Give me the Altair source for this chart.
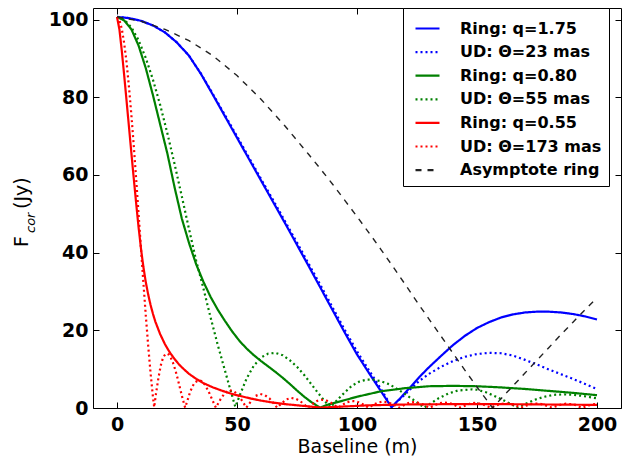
import altair as alt
import pandas as pd

# ---------------- data ----------------
series_names = ["Ring: q=1.75", "UD: \u0398=23 mas", "Ring: q=0.80", "UD: \u0398=55 mas",
                "Ring: q=0.55", "UD: \u0398=173 mas", "Asymptote ring"]

x_ticks = [0, 50, 100, 150, 200]
y_ticks = [0, 20, 40, 60, 80, 100]
y_title_parts = ["F", "cor", "(Jy)"]
x_title = "Baseline (m)"

# Ring q=1.75 (blue solid)
br_x = [0, 5, 10, 15, 20, 25, 30, 35, 40, 45, 50, 55, 60, 65, 70, 75, 80, 85, 90, 95, 100, 105, 110, 114.4,
        118, 122, 126, 130, 135, 140, 145, 150, 155, 160, 165, 170, 175, 180, 185, 190, 195, 200]
br_y = [100.7, 100.4, 99.7, 98.5, 96.7, 94.1, 90.7, 86.0, 80.6, 75.1, 69.6, 64.1, 58.6, 53.1, 47.6, 42.0,
        36.4, 30.7, 25.0, 19.3, 13.8, 9.0, 4.3, 0.2,
        2.5, 5.2, 8.0, 10.5, 13.4, 16.2, 18.6, 20.6, 22.1, 23.3, 24.1, 24.6, 24.8, 24.8, 24.6, 24.2, 23.6, 22.8]

# UD 23 mas (blue dotted)
bu_x = list(br_x)
bu_y = [100.7, 100.4, 99.7, 98.5, 96.7, 94.1, 90.7, 86.1, 80.8, 75.4, 70.0, 64.5, 59.0, 53.6, 48.1, 42.6,
        37.0, 31.4, 25.7, 20.0, 14.6, 9.7, 4.9, 0.3,
        2.3, 4.7, 7.0, 8.8, 10.6, 12.1, 13.2, 13.9, 14.2, 14.1, 13.5, 12.4, 11.2, 9.9, 8.7, 7.5, 6.2, 4.9]

# Ring q=0.80 (green solid)
gr_x = [0, 3, 6, 9, 12, 15, 18, 21, 24, 27, 30, 33, 36, 39, 42, 45, 48, 51, 54, 57, 60, 63, 66, 69, 72, 75,
        78, 81, 84.6, 88, 93, 100, 110, 120, 130, 140, 150, 160, 170, 180, 190, 200]
gr_y = [100.7, 99.8, 97.5, 93.3, 87.5, 80.5, 73.0, 65.5, 56.8, 48.8, 42.5, 37.0, 32.5, 28.6, 25.3, 22.4,
        19.7, 17.3, 15.3, 13.6, 12.1, 10.7, 9.3, 7.8, 6.2, 4.5, 2.9, 1.5, 0.1, 0.9, 1.7, 2.9,
        4.3, 5.1, 5.6, 5.7, 5.6, 5.3, 4.9, 4.4, 3.9, 3.3]

# UD 55 mas (green dotted)
gu_x = [0, 3, 6, 9, 12, 15, 18, 21, 24, 27, 30, 33, 36, 39, 42, 45, 47, 49.3,
        51.5, 54, 57, 60, 63, 66, 69, 72, 75, 78, 81, 84, 86.5, 89,
        92, 95, 98, 101, 104, 107, 110, 113.5, 116.5, 120, 123, 126, 128,
        131, 134, 138, 142, 146, 148, 150, 154, 158, 162, 167,
        170, 174, 178, 182, 186, 190, 194, 197, 200]
gu_y = [100.7, 100.0, 98.0, 94.7, 90.1, 84.5, 78.0, 70.7, 62.8, 54.5, 46.1, 37.9, 30.8, 23.3, 16.2, 9.6, 5.2, 0.3,
        3.8, 7.6, 10.9, 13.0, 14.0, 14.2, 13.6, 12.3, 10.6, 8.5, 6.1, 3.7, 1.8, 0.2,
        2.2, 4.1, 5.8, 6.8, 7.3, 7.3, 6.9, 6.1, 5.0, 3.6, 2.3, 1.0, 0.1,
        1.3, 2.5, 3.7, 4.5, 4.7, 4.8, 4.7, 4.0, 2.9, 1.7, 0.1,
        1.0, 2.1, 2.9, 3.4, 3.5, 3.4, 3.1, 2.8, 2.5]

# Ring q=0.55 (red solid)
rr_x = [0, 1, 2, 3, 4, 5, 6, 7, 8, 9, 10, 11, 12, 13, 14, 15, 16, 18, 20, 22, 24, 26, 28, 30, 33, 36,
        40, 44, 48, 52, 56, 60, 65, 70, 75, 80, 85, 95, 105, 120, 140, 160, 180, 200]
rr_y = [100.7, 97.5, 92.0, 85.6, 79.0, 72.3, 65.6, 59.0, 52.6, 46.5, 41.0, 36.3, 32.4, 29.2, 26.5, 24.2, 22.2,
        19.0, 16.4, 14.3, 12.6, 11.1, 9.9, 8.8, 7.5, 6.4,
        5.3, 4.4, 3.6, 3.0, 2.4, 1.9, 1.4, 1.0, 0.7, 0.4, 0.1, 0.4, 0.7, 0.9, 1.0, 1.0, 0.9, 0.8]

# UD 173 mas (red dotted)
ru_x = [0, 1, 2, 3, 4, 5, 6, 7, 8, 9, 10, 11, 12, 13, 14, 15, 15.5,
        16.2, 17.2, 18.2, 19.2, 20.2, 20.8, 21.5, 22.3, 23.3, 24.3, 25.3, 26.3, 27.3, 28.4,
        29.4, 30.4, 31.4, 32.4, 34.1, 35.3, 36.5, 37.5, 38.5, 39.5, 40.5, 41.2,
        43.1, 45.0, 46.9, 48.8, 50.7, 52.6, 53.9,
        55.8, 57.7, 59.7, 61.6, 63.5, 65.4, 66.7,
        68.6, 70.5, 72.5, 74.4, 76.3, 78.2, 79.5,
        81.4, 83.3, 85.2, 87.1, 89.0, 90.9, 92.2,
        94.1, 96.0, 97.9, 99.8, 101.7, 103.6, 104.9,
        106.8, 108.7, 110.6, 112.5, 114.4, 116.3, 117.6,
        119.5, 121.4, 123.4, 125.3, 127.2, 129.1, 130.4,
        132.3, 134.2, 136.1, 138.0, 139.9, 141.8, 143.1,
        145.0, 146.9, 148.8, 150.7, 152.6, 154.5, 155.8,
        157.7, 159.6, 161.5, 163.4, 165.3, 167.2, 168.5,
        170.4, 172.3, 174.2, 176.1, 178.0, 179.9, 181.3,
        183.2, 185.1, 187.0, 188.9, 190.8, 192.7, 194.0,
        195.9, 197.8, 200]
ru_y = [100.7, 99.9, 97.6, 93.9, 88.9, 82.6, 75.4, 67.4, 58.8, 49.9, 41.0, 32.2, 23.8, 16.0, 8.9, 2.7, 0.2,
        3.5, 7.5, 10.9, 13.0, 13.9, 14.0, 13.8, 13.1, 11.7, 9.8, 7.5, 5.0, 2.5, 0.1,
        2.0, 4.0, 5.5, 6.6, 7.2, 6.9, 6.1, 5.0, 3.8, 2.4, 1.0, 0.1,
        2.2, 3.9, 4.6, 4.3, 3.2, 1.4, 0.1,
        1.7, 3.1, 3.6, 3.3, 2.5, 1.1, 0.1,
        1.2, 2.2, 2.6, 2.4, 1.8, 0.8, 0.1,
        1.0, 1.8, 2.1, 2.0, 1.4, 0.6, 0.1,
        0.9, 1.5, 1.8, 1.7, 1.2, 0.5, 0.1,
        0.8, 1.4, 1.6, 1.5, 1.1, 0.5, 0.1,
        0.7, 1.3, 1.5, 1.4, 1.0, 0.4, 0.1,
        0.7, 1.2, 1.4, 1.3, 1.0, 0.4, 0.1,
        0.6, 1.1, 1.3, 1.2, 0.9, 0.4, 0.1,
        0.6, 1.0, 1.2, 1.1, 0.8, 0.4, 0.1,
        0.6, 1.0, 1.15, 1.1, 0.8, 0.3, 0.1,
        0.5, 0.9, 1.1, 1.0, 0.8, 0.3, 0.1,
        0.5, 0.9, 1.05]

# Asymptote ring (black dashed)
ar_x = [0, 10, 20, 30, 40, 50, 60, 70, 80, 85, 90, 95, 100, 105, 110, 115, 120, 125, 130, 135, 140, 145,
        150, 156.5, 160, 165, 170, 175, 180, 185, 190, 195, 200]
ar_y = [100.7, 99.6, 97.5, 94.6, 90.7, 85.6, 79.5, 72.6, 65.2, 61.4, 57.5, 53.4, 49.3, 45.1, 40.8, 36.4,
        31.9, 27.3, 22.9, 18.5, 14.1, 9.7, 5.4, 0.0, 2.4, 5.7, 9.0, 12.3, 15.6, 18.9, 22.1, 25.3, 28.4]

# ---------------- styles ----------------
colors = ["#0000ff", "#0000ff", "#008000", "#008000", "#ff0000", "#ff0000", "#222222"]
dashes = [[1, 0], [2, 3], [1, 0], [2, 3], [1, 0], [2, 3], [6, 6]]

all_x = [br_x, bu_x, gr_x, gu_x, rr_x, ru_x, ar_x]
all_y = [br_y, bu_y, gr_y, gu_y, rr_y, ru_y, ar_y]
for a, b in zip(all_x, all_y):
    assert len(a) == len(b), (len(a), len(b))

rows = []
for name, xs, ys in zip(series_names, all_x, all_y):
    for xv, yv in zip(xs, ys):
        rows.append({"x": xv, "y": yv, "series": name})
df = pd.DataFrame(rows)
df_main = df[df["series"] != series_names[-1]]
df_asym = df[df["series"] == series_names[-1]]

FONT = "DejaVu Sans"
xscale = alt.Scale(domain=[-10, 210], nice=False, zero=False)
yscale = alt.Scale(domain=[0, 103], nice=False, zero=False)
color_enc = alt.Color("series:N", scale=alt.Scale(domain=series_names, range=colors),
                      legend=alt.Legend(title=None))
dash_enc = alt.StrokeDash("series:N", scale=alt.Scale(domain=series_names, range=dashes),
                          legend=alt.Legend(title=None))

lines = alt.Chart(df_main).mark_line(clip=True, strokeWidth=2.2).encode(
    x=alt.X("x:Q", scale=xscale,
            axis=alt.Axis(orient="bottom", values=x_ticks, ticks=False, domain=False,
                          labelPadding=7, title=x_title, titlePadding=3, labelFlush=False,
                          labelOverlap=False)),
    y=alt.Y("y:Q", scale=yscale,
            axis=alt.Axis(orient="left", values=y_ticks, ticks=False, domain=False,
                          labelPadding=5, title=None, labelFlush=False, labelOverlap=False)),
    color=color_enc,
    strokeDash=dash_enc,
)

asym = alt.Chart(df_asym).mark_line(clip=True, strokeWidth=1.4).encode(
    x=alt.X("x:Q", scale=xscale, axis=None),
    y=alt.Y("y:Q", scale=yscale, axis=None),
    color=color_enc,
    strokeDash=dash_enc,
)

tick_axis = dict(labels=False, domain=False, title=None, ticks=True, tickSize=6, offset=-6,
                 tickColor="black", tickWidth=1)

ticks_bl = alt.Chart(df_asym).mark_point(opacity=0).encode(
    x=alt.X("x:Q", scale=xscale, axis=alt.Axis(orient="bottom", values=x_ticks, **tick_axis)),
    y=alt.Y("y:Q", scale=yscale, axis=alt.Axis(orient="left", values=y_ticks, **tick_axis)),
)
ticks_tr = alt.Chart(df_asym).mark_point(opacity=0).encode(
    x=alt.X("x:Q", scale=xscale, axis=alt.Axis(orient="top", values=x_ticks, **tick_axis)),
    y=alt.Y("y:Q", scale=yscale, axis=alt.Axis(orient="right", values=y_ticks, **tick_axis)),
)

tdf0 = pd.DataFrame({"t": [y_title_parts[0]]})
tdf1 = pd.DataFrame({"t": [y_title_parts[1]]})
tdf2 = pd.DataFrame({"t": [y_title_parts[2]]})
yt_f = alt.Chart(tdf0).mark_text(font=FONT, fontSize=19, angle=270, align="left",
                                 baseline="alphabetic", color="black").encode(
    x=alt.value(-65), y=alt.value(239), text="t:N")
yt_sub = alt.Chart(tdf1).mark_text(font=FONT, fontSize=13, fontStyle="italic", angle=270, align="left",
                                   baseline="alphabetic", color="black").encode(
    x=alt.value(-58), y=alt.value(225), text="t:N")
yt_jy = alt.Chart(tdf2).mark_text(font=FONT, fontSize=19, angle=270, align="left",
                                  baseline="alphabetic", color="black").encode(
    x=alt.value(-65), y=alt.value(201), text="t:N")

chart = alt.layer(lines, asym, ticks_bl, ticks_tr, yt_f, yt_sub, yt_jy).resolve_scale(
    x="independent", y="independent"
).resolve_axis(
    x="independent", y="independent"
).properties(
    width=528, height=400,
    autosize=alt.AutoSizeParams(type="none"),
    padding={"left": 85, "top": 0, "right": 5, "bottom": 52},
).configure_view(
    stroke="black", strokeWidth=1
).configure_axis(
    grid=False, labelFont=FONT, labelFontSize=19, labelFontWeight="bold", labelColor="black",
    titleFont=FONT, titleFontSize=19, titleFontWeight="normal", titleColor="black",
    tickColor="black"
).configure_legend(
    orient="none", legendX=310, legendY=0, padding=7, strokeColor="black", fillColor="white",
    cornerRadius=0, symbolType="stroke", symbolSize=576, symbolStrokeWidth=2.2,
    labelFont=FONT, labelFontSize=16, labelFontWeight="bold", labelColor="black",
    rowPadding=1.6, symbolOffset=4, labelOffset=19, labelLimit=300
)

chart.save("out.html", embed_options={"renderer": "svg", "actions": False})
